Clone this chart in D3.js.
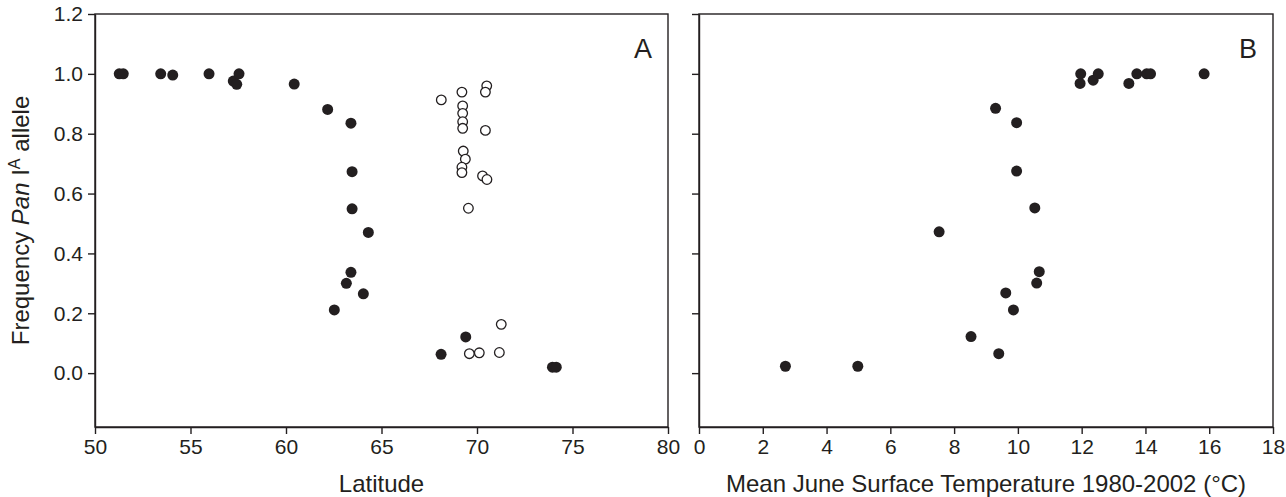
<!DOCTYPE html>
<html>
<head>
<meta charset="utf-8">
<script src="https://cdn.jsdelivr.net/npm/d3@7"></script>
<style>
  body { margin: 0; background: #fff; }
  svg { display: block; font-family: "Liberation Sans", Arial, sans-serif; }
  .axis path, .axis line { stroke: #231f20; stroke-width: 1.4; }
  .axis text { font-size: 21px; fill: #231f20; }
  .axis-title { font-size: 24px; fill: #231f20; }
</style>
</head>
<body>
<div id="chart"></div>
<script>
// Panel A: latitude vs frequency, filled = one group, open = other group
const latFilled  = [51.27, 51.48, 53.44, 54.07, 55.97, 57.24, 57.42, 57.54, 60.43, 62.18, 63.40,
                    63.46, 63.46, 64.31, 63.40, 63.16, 64.05, 62.53, 69.41, 68.12, 73.95, 74.15];
const freqFilled = [1.0, 1.0, 1.0, 0.996, 1.0, 0.976, 0.965, 1.0, 0.966, 0.881, 0.835,
                    0.673, 0.549, 0.470, 0.337, 0.300, 0.265, 0.211, 0.121, 0.063, 0.020, 0.020];
const latOpen    = [70.51, 70.44, 69.21, 68.13, 69.25, 69.25, 69.25, 69.25, 70.44, 69.28,
                    69.39, 69.21, 69.21, 70.29, 70.52, 69.55, 71.27, 69.60, 70.12, 71.17];
const freqOpen   = [0.960, 0.939, 0.939, 0.913, 0.893, 0.868, 0.840, 0.818, 0.811, 0.742,
                    0.715, 0.688, 0.670, 0.659, 0.647, 0.551, 0.163, 0.065, 0.068, 0.069];

// Panel B: mean June surface temperature vs frequency
const tempB = [2.71, 4.98, 7.53, 8.53, 10.53, 10.67, 10.59, 9.62, 9.86, 9.40, 9.30,
               9.96, 9.96, 11.97, 11.95, 12.36, 12.52, 13.48, 13.73, 14.04, 14.16, 15.84];
const freqB = [0.023, 0.023, 0.472, 0.122, 0.552, 0.339, 0.301, 0.268, 0.211, 0.065, 0.885,
               0.837, 0.675, 1.0, 0.968, 0.979, 1.0, 0.968, 1.0, 1.0, 1.0, 1.0];

const yTicks  = [0, 0.2, 0.4, 0.6, 0.8, 1.0, 1.2];
const xTicksA = [50, 55, 60, 65, 70, 75, 80];
const xTicksB = [0, 2, 4, 6, 8, 10, 12, 14, 16, 18];

const ink = '#231f20';
const width = 1286, height = 497;
const plotTop = 14, plotBottom = 427;

const svg = d3.select('#chart').append('svg')
    .attr('width', width)
    .attr('height', height);

const yScale = d3.scaleLinear().domain([-0.18, 1.2]).range([plotBottom, plotTop]);

function drawPanel(cfg) {
  const x = d3.scaleLinear().domain(cfg.xDomain).range([cfg.left, cfg.right]);
  const g = svg.append('g');

  // frame (top and right sides)
  g.append('rect')
      .attr('x', cfg.left).attr('y', plotTop)
      .attr('width', cfg.right - cfg.left).attr('height', plotBottom - plotTop)
      .attr('fill', 'none').attr('stroke', ink).attr('stroke-width', 1.4);

  const xAxis = d3.axisBottom(x).tickValues(cfg.xTicks).tickSize(7).tickSizeOuter(0).tickPadding(5);
  g.append('g').attr('class', 'axis')
      .attr('transform', `translate(0,${plotBottom})`)
      .call(xAxis);

  const yAxis = d3.axisLeft(yScale).tickValues(yTicks).tickSize(7).tickSizeOuter(0).tickPadding(5)
      .tickFormat(cfg.yLabels ? d3.format('.1f') : '');
  g.append('g').attr('class', 'axis')
      .attr('transform', `translate(${cfg.left},0)`)
      .call(yAxis);

  g.append('text')
      .attr('class', 'axis-title')
      .attr('x', (cfg.left + cfg.right) / 2)
      .attr('y', 492)
      .attr('text-anchor', 'middle')
      .text(cfg.xTitle);

  g.append('text')
      .attr('x', cfg.right - 25)
      .attr('y', 58)
      .attr('text-anchor', 'middle')
      .style('font-size', '27px')
      .attr('fill', ink)
      .text(cfg.letter);

  return {g, x};
}

const A = drawPanel({left: 95, right: 668, xDomain: [50, 80], xTicks: xTicksA,
                     yLabels: true, xTitle: 'Latitude', letter: 'A'});
const B = drawPanel({left: 699, right: 1273, xDomain: [0, 18], xTicks: xTicksB,
                     yLabels: false, xTitle: 'Mean June Surface Temperature 1980-2002 (°C)', letter: 'B'});

// y axis title with italic and superscript
const yTitle = svg.append('text')
    .attr('class', 'axis-title')
    .attr('transform', `translate(29,${(plotTop + plotBottom) / 2}) rotate(-90)`)
    .attr('text-anchor', 'middle');
yTitle.append('tspan').text('Frequency ');
yTitle.append('tspan').style('font-style', 'italic').text('Pan');
yTitle.append('tspan').text(' I');
yTitle.append('tspan').attr('dy', -9).style('font-size', '16px').text('A');
yTitle.append('tspan').attr('dy', 9).text(' allele');

// points
A.g.selectAll('circle.filled')
  .data(latFilled.map((d, i) => [d, freqFilled[i]]))
  .join('circle')
    .attr('class', 'filled')
    .attr('cx', d => A.x(d[0]))
    .attr('cy', d => yScale(d[1]))
    .attr('r', 5.5)
    .attr('fill', ink);

A.g.selectAll('circle.open')
  .data(latOpen.map((d, i) => [d, freqOpen[i]]))
  .join('circle')
    .attr('class', 'open')
    .attr('cx', d => A.x(d[0]))
    .attr('cy', d => yScale(d[1]))
    .attr('r', 4.8)
    .attr('fill', '#fff')
    .attr('stroke', ink)
    .attr('stroke-width', 1.3);

B.g.selectAll('circle.filled')
  .data(tempB.map((d, i) => [d, freqB[i]]))
  .join('circle')
    .attr('class', 'filled')
    .attr('cx', d => B.x(d[0]))
    .attr('cy', d => yScale(d[1]))
    .attr('r', 5.5)
    .attr('fill', ink);
</script>
</body>
</html>
